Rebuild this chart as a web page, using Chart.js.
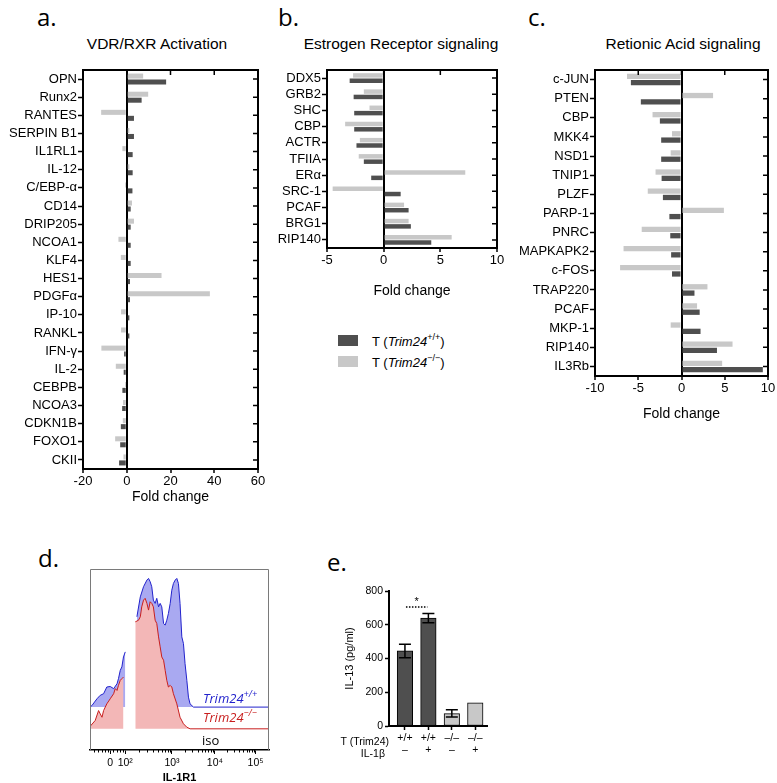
<!DOCTYPE html>
<html>
<head>
<meta charset="utf-8">
<script src="https://cdn.jsdelivr.net/npm/chart.js@4.4.1/dist/chart.umd.min.js"></script>
<style>
  body { margin: 0; background: #fff; }
  #page { position: relative; width: 777px; height: 783px; overflow: hidden; font-family: 'Liberation Sans', Arial, sans-serif; color: #000; }
  canvas { position: absolute; }
  .tag { position: absolute; font-family: 'Open Sans', sans-serif; font-size: 24px; line-height: 1; transform: translateY(-50%); }
  .ttl { position: absolute; font-size: 15.5px; white-space: nowrap; transform: translate(-50%, -50%); }
  .key { position: absolute; font-size: 13px; white-space: nowrap; transform: translateY(-50%); }
  .sw { position: absolute; width: 20px; height: 11px; }
  .flow { position: absolute; font-family: 'Open Sans', sans-serif; font-size: 13px; white-space: nowrap; transform: translateY(-50%); }
  .row { position: absolute; font-size: 10.5px; white-space: nowrap; transform: translate(-100%, -50%); }
  sup { font-size: 70%; line-height: 0; position: relative; top: -0.1em; }
</style>
</head>
<body>
<div id="page">
  <div class="tag" style="left:37px;top:17px">a.</div>
  <div class="tag" style="left:278px;top:17px">b.</div>
  <div class="tag" style="left:528px;top:17px">c.</div>
  <div class="tag" style="left:38px;top:558px">d.</div>
  <div class="tag" style="left:327px;top:562px">e.</div>

  <div class="ttl" style="left:157px;top:44px">VDR/RXR Activation</div>
  <div class="ttl" style="left:401px;top:44px">Estrogen Receptor signaling</div>
  <div class="ttl" style="left:683px;top:44px">Retionic Acid signaling</div>

  <canvas id="chartA" width="272" height="450" style="left:0;top:60px"></canvas>
  <canvas id="chartB" width="232" height="244" style="left:278px;top:60px"></canvas>
  <canvas id="chartC" width="267" height="367" style="left:510px;top:60px"></canvas>
  <canvas id="chartD" width="240" height="223" style="left:40px;top:560px"></canvas>
  <canvas id="chartE" width="160" height="203" style="left:336px;top:580px"></canvas>

  <div class="sw" style="left:338px;top:335px;background:#4f4f4f"></div>
  <div class="key" style="left:372px;top:341px">T (<i>Trim24</i><sup>+/+</sup>)</div>
  <div class="sw" style="left:338px;top:356px;background:#c8c8c8"></div>
  <div class="key" style="left:372px;top:362px">T (<i>Trim24</i><sup>−/−</sup>)</div>

  <div class="flow" style="left:203px;top:698px;color:#2222cc"><i>Trim24</i><sup><i>+/+</i></sup></div>
  <div class="flow" style="left:203px;top:717px;color:#c81e1e"><i>Trim24</i><sup><i>−/−</i></sup></div>
  <div class="flow" style="left:202px;top:740px">iso</div>

  <div class="row" style="left:389px;top:741px">T (Trim24)</div>
  <div class="row" style="left:385px;top:753px">IL-1β</div>
</div>

<script>
// ── data ──────────────────────────────────────────────────────
const vdrGenes = ['OPN', 'Runx2', 'RANTES', 'SERPIN B1', 'IL1RL1', 'IL-12', 'C/EBP-α', 'CD14', 'DRIP205', 'NCOA1', 'KLF4',
                  'HES1', 'PDGFα', 'IP-10', 'RANKL', 'IFN-γ', 'IL-2', 'CEBPB', 'NCOA3', 'CDKN1B', 'FOXO1', 'CKII'];
const vdrKO = [7.5, 9.8, -11.7, 1.2, -2.0, 1.2, -0.8, 2.4, 3.3, -3.8, -2.7, 15.9, 38, -2.6, -2.6, -11.6, -5, -0.8, -1.7, -1.8, -5.3, -1.5];
const vdrWT = [18.0, 6.8, 3.3, 3.3, 2.7, 2.7, 2.6, 1.8, 1.8, 1.8, 1.8, 1.5, 1.5, 1.2, 1.2, -1.2, -1.4, -2.0, -2.1, -2.7, -3.0, -3.5];

const erGenes = ['DDX5', 'GRB2', 'SHC', 'CBP', 'ACTR', 'TFIIA', 'ERα', 'SRC-1', 'PCAF', 'BRG1', 'RIP140'];
const erKO = [-2.7, -1.75, -1.25, -3.4, -2.1, -2.2, 7.2, -4.5, 1.8, 2.2, 6.0];
const erWT = [-3.0, -2.65, -2.6, -2.6, -2.4, -1.75, -1.1, 1.5, 2.2, 2.4, 4.2];

const raGenes = ['c-JUN', 'PTEN', 'CBP', 'MKK4', 'NSD1', 'TNIP1', 'PLZF', 'PARP-1', 'PNRC', 'MAPKAPK2', 'c-FOS',
                 'TRAP220', 'PCAF', 'MKP-1', 'RIP140', 'IL3Rb'];
const raKO = [-6.3, 3.65, -3.35, -1.1, -1.25, -3.0, -3.9, 4.9, -4.6, -6.7, -7.1, 3.0, 1.8, -1.25, 5.9, 4.7];
const raWT = [-5.85, -4.7, -2.5, -2.35, -2.35, -2.3, -2.15, -1.4, -1.3, -1.2, -1.1, 1.5, 2.1, 2.2, 4.1, 9.4];

// flow histogram (display channel 0-1000, height in % of frame)
const flowTickVals = [112, 197, 458, 698, 925];
const flowTickLabels = ['0', '10²', '10³', '10⁴', '10⁵'];
const flowMinorTicks = [22, 45, 66, 84, 98, 130, 150, 168, 183,
                        276, 321, 354, 379, 400, 418, 433, 446,
                        530, 572, 602, 626, 645, 661, 675, 687,
                        766, 806, 835, 857, 875, 890, 903, 914];
const wtBase = 23.7, koBase = 11.7;
const wtX = [0, 11, 39, 57, 76, 94, 113, 132, 151, 159, 169, 178, 187, 197, 230,
             262, 281, 299, 318, 327, 336, 345, 354, 364, 373, 383, 392, 401, 411, 420, 429, 438,
             448, 457, 466, 476, 485, 494, 503, 513, 522, 531, 541, 550, 559, 578, 1000];
const wtY = [23.7, 24.6, 28.3, 30.2, 31.1, 34.8, 35.1, 33.9, 36.6, 39.4, 44.0, 45.9, 51.4, 54.2, null,
             73.6, 84.6, 90.2, 93.9, 94.8, 93.0, 90.2, 82.8, 81.0, 83.8, 79.1, 81.0, 79.1, 69.9, 69.0, 71.7, 75.4,
             81.0, 88.3, 92.0, 93.9, 94.8, 92.0, 81.0, 62.5, 58.8, 47.7, 38.5, 29.2, 25.5, 23.7, 23.7];
const koX = [0, 29, 48, 57, 67, 76, 94, 113, 132, 141, 151, 159, 169, 178, 187, 220,
             253, 271, 281, 289, 299, 308, 318, 327, 336, 345, 354, 364, 373, 383, 392, 401,
             411, 420, 429, 438, 448, 457, 466, 485, 503, 522, 541, 559, 1000];
const koY = [13.0, 16.3, 21.8, 20.0, 18.1, 21.8, 25.5, 28.3, 31.1, 33.9, 32.9, 35.7, 38.5, 39.4, 40.3, null,
             70.8, 71.7, 73.6, 79.1, 82.8, 83.8, 81.0, 77.3, 81.9, 81.0, 79.1, 71.7, 69.9, 62.5, 57.0, 51.4,
             49.6, 44.0, 38.5, 34.8, 35.7, 34.8, 31.1, 25.5, 18.1, 14.5, 12.6, 11.7, 11.7];

// IL-13 ELISA (bars sit at positions 0..3 on the x scale)
const il13Labels = [['+/+', '–'], ['+/+', '+'], ['–/–', '–'], ['–/–', '+']];
const il13Geno = ['wt', 'wt', 'ko', 'ko'];
const il13Mean = [446, 640, 73, 138];
const il13Lo = [405, 612, 53, null];
const il13Hi = [484, 666, 97, null];
const sigLevel = 705, starLevel = 735;

// ── styling ───────────────────────────────────────────────────
Chart.defaults.font.family = "'Liberation Sans', Arial, sans-serif";
Chart.defaults.color = '#000';
Chart.defaults.animation = false;

const DARK = '#4f4f4f';
const LIGHT = '#c8c8c8';

const fixSize = (w, h) => s => { if (w != null) s.width = w; if (h != null) s.height = h; };

// Prism style box with inward ticks on top and right
const prismFrame = {
  id: 'prismFrame',
  afterDraw(chart) {
    const { ctx, chartArea: a, scales: { x, y } } = chart;
    ctx.save();
    ctx.strokeStyle = '#000';
    ctx.lineWidth = 2;
    ctx.strokeRect(a.left, a.top, a.right - a.left, a.bottom - a.top);
    ctx.lineWidth = 1.5;
    ctx.beginPath();
    x.ticks.forEach((t, i) => { const px = x.getPixelForTick(i); ctx.moveTo(px, a.top); ctx.lineTo(px, a.top + 5); });
    y.ticks.forEach((t, i) => { const py = y.getPixelForTick(i); ctx.moveTo(a.right, py); ctx.lineTo(a.right - 5, py); });
    ctx.stroke();
    ctx.restore();
  },
};

function foldChart(id, genes, ko, wt, xMin, xMax, step, yW, xH, pad) {
  return new Chart(document.getElementById(id), {
    type: 'bar',
    data: {
      labels: genes,
      datasets: [
        { data: ko, backgroundColor: LIGHT, borderWidth: 0 },
        { data: wt, backgroundColor: DARK, borderWidth: 0 },
      ],
    },
    options: {
      indexAxis: 'y',
      responsive: false,
      categoryPercentage: 0.66,
      barPercentage: 0.84,
      layout: { padding: pad },
      plugins: { legend: { display: false }, tooltip: { enabled: false } },
      scales: {
        x: {
          type: 'linear', min: xMin, max: xMax,
          ticks: { stepSize: step, font: { size: 13 }, padding: 1 },
          grid: {
            color: c => (c.tick && c.tick.value === 0 ? '#000' : 'rgba(0,0,0,0)'),
            lineWidth: 2, tickColor: '#000', tickWidth: 1.5, tickLength: 4,
          },
          border: { color: '#000', width: 2 },
          title: { display: true, text: 'Fold change', font: { size: 14 }, padding: { top: 4, bottom: 4 } },
          afterFit: fixSize(null, xH),
        },
        y: {
          ticks: { font: { size: 13 }, padding: 1, autoSkip: false },
          grid: { drawOnChartArea: false, offset: false, tickColor: '#000', tickWidth: 1.5, tickLength: 5 },
          border: { color: '#000', width: 2 },
          afterFit: fixSize(yW, null),
        },
      },
    },
    plugins: [prismFrame],
  });
}

foldChart('chartA', vdrGenes, vdrKO, vdrWT, -20, 60, 20, 83, 41, { top: 10, right: 14, left: 0, bottom: 0 });
foldChart('chartB', erGenes, erKO, erWT, -5, 10, 5, 49, 56, { top: 10, right: 13, left: 0, bottom: 0 });
foldChart('chartC', raGenes, raKO, raWT, -10, 10, 5, 85, 51, { top: 10, right: 9, left: 0, bottom: 0 });

// ── d: IL-1R1 flow histogram ──────────────────────────────────
const flowFrame = {
  id: 'flowFrame',
  afterDraw(chart) {
    const { ctx, chartArea: a, scales: { x } } = chart;
    ctx.save();
    ctx.strokeStyle = '#7a7a7a';
    ctx.lineWidth = 1;
    ctx.beginPath();
    ctx.moveTo(a.left + 0.5, a.bottom);
    ctx.lineTo(a.left + 0.5, a.top + 0.5);
    ctx.lineTo(a.right - 0.5, a.top + 0.5);
    ctx.lineTo(a.right - 0.5, a.bottom);
    ctx.stroke();
    // minor ticks of the log axis
    ctx.strokeStyle = '#000';
    ctx.beginPath();
    flowMinorTicks.forEach(v => {
      const px = Math.round(x.getPixelForValue(v)) + 0.5;
      ctx.moveTo(px, a.bottom); ctx.lineTo(px, a.bottom + 2.5);
    });
    ctx.stroke();
    ctx.restore();
  },
};

const toPts = (xs, ys) => xs.map((x, i) => ({ x, y: ys[i] }));

new Chart(document.getElementById('chartD'), {
  type: 'line',
  data: {
    datasets: [
      { data: toPts(koX, koY), borderColor: '#c81e1e', backgroundColor: '#f3b7b7', borderWidth: 1, fill: { value: koBase } },
      { data: toPts(wtX, wtY), borderColor: '#2222cc', backgroundColor: '#a9a9f1', borderWidth: 1, fill: { value: wtBase } },
    ],
  },
  options: {
    responsive: false,
    spanGaps: false,
    elements: { point: { radius: 0 }, line: { tension: 0 } },
    layout: { padding: { left: 50, top: 9, right: 11, bottom: 0 } },
    plugins: { legend: { display: false }, tooltip: { enabled: false } },
    scales: {
      x: {
        type: 'linear', min: 0, max: 1000,
        afterBuildTicks: s => { s.ticks = flowTickVals.map(v => ({ value: v })); },
        ticks: { font: { size: 10.5 }, padding: 3, callback: v => flowTickLabels[flowTickVals.indexOf(v)] },
        grid: { drawOnChartArea: false, tickColor: '#000', tickLength: 4 },
        border: { color: '#000', width: 1.5 },
        title: { display: true, text: 'IL-1R1', font: { size: 11, weight: 'bold', lineHeight: 1 }, padding: { top: 0, bottom: 0 } },
        afterFit: fixSize(null, 33),
      },
      y: { display: false, min: 0, max: 100 },
    },
  },
  plugins: [flowFrame],
});

// ── e: IL-13 bar chart ────────────────────────────────────────
const errorBars = {
  id: 'errorBars',
  afterDatasetsDraw(chart) {
    const { ctx, scales: { y } } = chart;
    const bars = chart.getDatasetMeta(0).data;
    ctx.save();
    ctx.strokeStyle = '#000';
    ctx.lineWidth = 1.5;
    bars.forEach((b, i) => {
      if (il13Lo[i] == null) return;
      const lo = y.getPixelForValue(il13Lo[i]), hi = y.getPixelForValue(il13Hi[i]);
      ctx.beginPath();
      ctx.moveTo(b.x, lo); ctx.lineTo(b.x, hi);
      ctx.moveTo(b.x - 6, lo); ctx.lineTo(b.x + 6, lo);
      ctx.moveTo(b.x - 6, hi); ctx.lineTo(b.x + 6, hi);
      ctx.stroke();
    });
    // significance between the two +/+ bars
    const sy = y.getPixelForValue(sigLevel);
    ctx.setLineDash([1.5, 1.5]);
    ctx.beginPath();
    ctx.moveTo(bars[0].x + 1, sy); ctx.lineTo(bars[1].x - 1, sy);
    ctx.stroke();
    ctx.setLineDash([]);
    ctx.fillStyle = '#000';
    ctx.font = "11px 'Liberation Sans', Arial, sans-serif";
    ctx.textAlign = 'center';
    ctx.textBaseline = 'middle';
    ctx.fillText('*', (bars[0].x + bars[1].x) / 2, y.getPixelForValue(starLevel));
    ctx.restore();
  },
};

new Chart(document.getElementById('chartE'), {
  type: 'bar',
  data: {
    datasets: [{
      data: il13Mean.map((v, i) => ({ x: i, y: v })),
      backgroundColor: il13Geno.map(g => (g === 'wt' ? DARK : LIGHT)),
      borderColor: '#000',
      borderWidth: 1,
      borderSkipped: false,
      barThickness: 15.5,
    }],
  },
  options: {
    responsive: false,
    layout: { padding: { top: 11, right: 9, left: 0, bottom: 0 } },
    plugins: { legend: { display: false }, tooltip: { enabled: false } },
    scales: {
      x: {
        type: 'linear', min: -0.68, max: 3.5, offset: false,
        afterBuildTicks: s => { s.ticks = il13Labels.map((l, i) => ({ value: i })); },
        ticks: { font: { size: 10.5, lineHeight: 1.15 }, padding: 2, callback: v => il13Labels[v] },
        grid: { drawOnChartArea: false, offset: false, tickColor: '#000', tickWidth: 1.5, tickLength: 4 },
        border: { color: '#000', width: 2 },
        afterFit: fixSize(null, 57),
      },
      y: {
        min: 0, max: 800,
        ticks: { stepSize: 200, font: { size: 10.5 }, padding: 2 },
        grid: { drawOnChartArea: false, tickColor: '#000', tickWidth: 1.5, tickLength: 4 },
        border: { color: '#000', width: 2 },
        title: { display: true, text: 'IL-13 (pg/ml)', font: { size: 11 }, padding: { top: 7, bottom: 0 } },
        afterFit: fixSize(53, null),
      },
    },
  },
  plugins: [errorBars],
});
</script>
</body>
</html>
